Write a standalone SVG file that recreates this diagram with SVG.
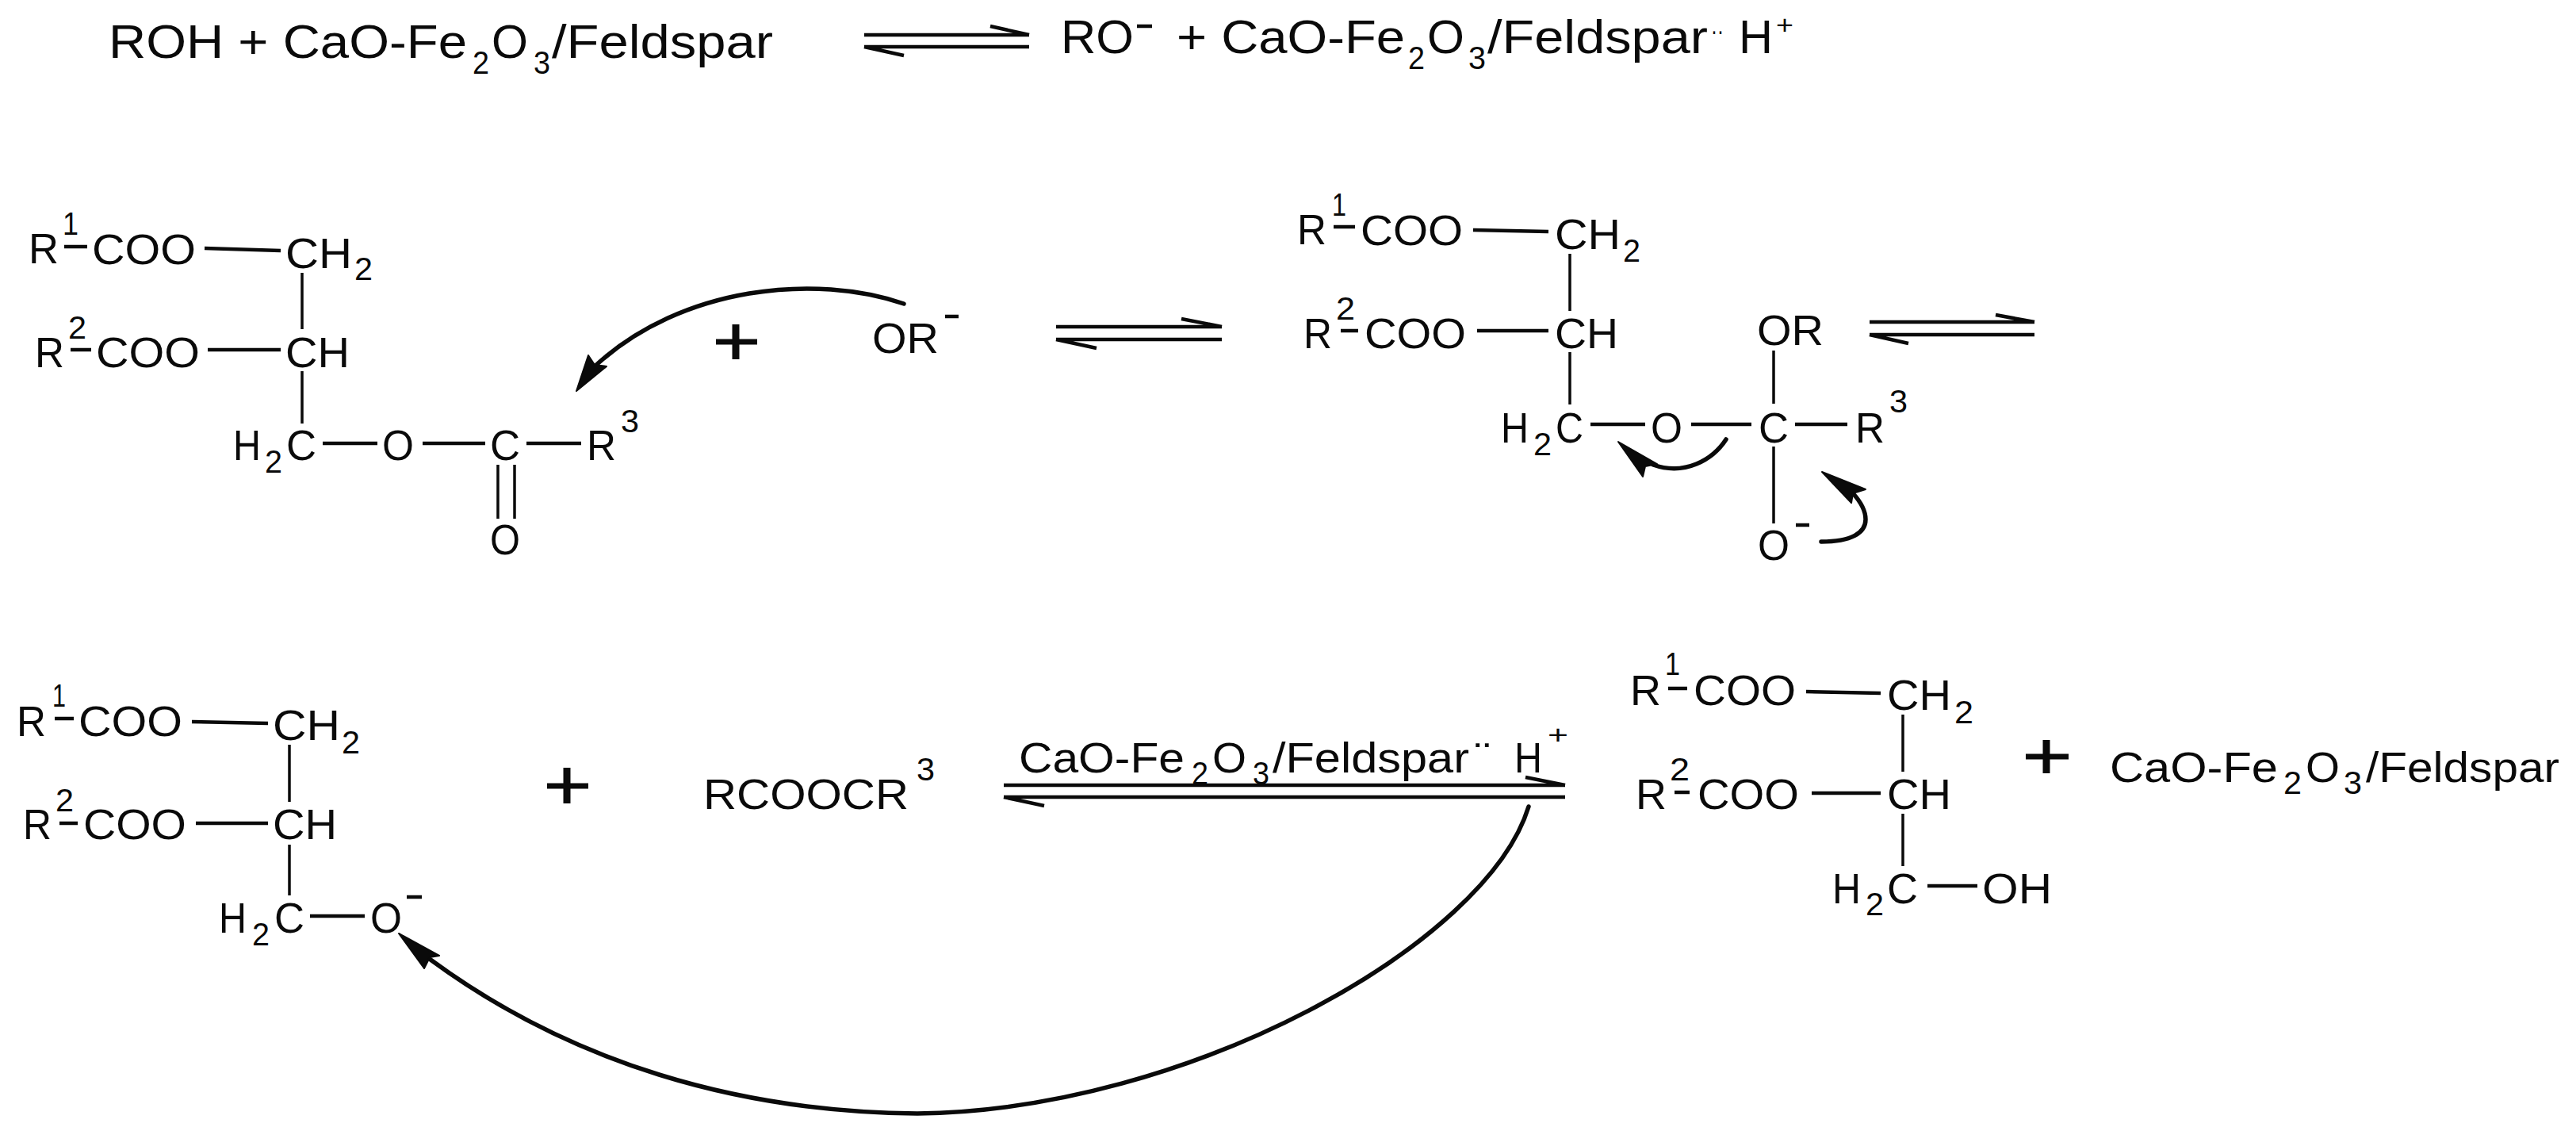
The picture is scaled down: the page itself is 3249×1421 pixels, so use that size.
<svg xmlns="http://www.w3.org/2000/svg" width="3249" height="1421" viewBox="0 0 3249 1421">
<style>
text{font-family:"Liberation Sans",Arial,sans-serif;fill:#0a0a0a}
.a{font-size:60px}.s{font-size:54px}.m{font-size:54px}.sd{font-size:40px}.td{font-size:40px}.pl{font-size:34px}
.b{stroke:#0a0a0a;stroke-width:4.5;fill:none}
.t{stroke:#0a0a0a;stroke-width:3.5;fill:none}
.c{stroke:#0a0a0a;stroke-width:5.5;fill:none;stroke-linecap:round}
.h{fill:#0a0a0a;stroke:#0a0a0a;stroke-width:2;stroke-linejoin:round}
.p{stroke:#0a0a0a;fill:none}
</style>
<rect width="3249" height="1421" fill="#fff"/>
<g id="eq-top-left">
<text class="a" x="137" y="73" textLength="452" lengthAdjust="spacingAndGlyphs">ROH + CaO-Fe</text>
<text class="td" x="596" y="93" textLength="21" lengthAdjust="spacingAndGlyphs">2</text>
<text class="a" x="620" y="73" textLength="46" lengthAdjust="spacingAndGlyphs">O</text>
<text class="td" x="673" y="93" textLength="21" lengthAdjust="spacingAndGlyphs">3</text>
<text class="a" x="696" y="73" textLength="279" lengthAdjust="spacingAndGlyphs">/Feldspar</text>
</g>
<g id="eq-top-right">
<text class="a" x="1338" y="67" textLength="92" lengthAdjust="spacingAndGlyphs">RO</text>
<path class="b" d="M1434 33H1453"/>
<text class="a" x="1484" y="67" textLength="288" lengthAdjust="spacingAndGlyphs">+ CaO-Fe</text>
<text class="td" x="1776" y="87" textLength="21" lengthAdjust="spacingAndGlyphs">2</text>
<text class="a" x="1800" y="67" textLength="47" lengthAdjust="spacingAndGlyphs">O</text>
<text class="td" x="1852" y="87" textLength="22" lengthAdjust="spacingAndGlyphs">3</text>
<text class="a" x="1876" y="67" textLength="278" lengthAdjust="spacingAndGlyphs">/Feldspar</text>
<text class="pl" x="2158" y="50" textLength="16" lengthAdjust="spacingAndGlyphs">··</text>
<text class="a" x="2193" y="67" textLength="43" lengthAdjust="spacingAndGlyphs">H</text>
<text class="pl" x="2240" y="43" textLength="22" lengthAdjust="spacingAndGlyphs">+</text>
</g>
<g id="triglyceride">
<text class="s" x="36" y="332" textLength="38" lengthAdjust="spacingAndGlyphs">R</text>
<text class="sd" x="79" y="296" textLength="20" lengthAdjust="spacingAndGlyphs">1</text>
<path class="b" d="M81 311H110"/>
<text class="s" x="116" y="333" textLength="131" lengthAdjust="spacingAndGlyphs">COO</text>
<path class="b" d="M258 313L354 316"/>
<text class="s" x="360" y="338" textLength="84" lengthAdjust="spacingAndGlyphs">CH</text>
<text class="sd" x="447" y="353" textLength="23" lengthAdjust="spacingAndGlyphs">2</text>
<path class="t" d="M381 344V415"/>
<text class="s" x="44" y="463" textLength="37" lengthAdjust="spacingAndGlyphs">R</text>
<text class="sd" x="86" y="427" textLength="23" lengthAdjust="spacingAndGlyphs">2</text>
<path class="b" d="M89 441H115"/>
<text class="s" x="121" y="463" textLength="131" lengthAdjust="spacingAndGlyphs">COO</text>
<path class="b" d="M262 441H354"/>
<text class="s" x="360" y="463" textLength="81" lengthAdjust="spacingAndGlyphs">CH</text>
<path class="t" d="M381 468V534"/>
<text class="s" x="294" y="580" textLength="35" lengthAdjust="spacingAndGlyphs">H</text>
<text class="sd" x="334" y="596" textLength="22" lengthAdjust="spacingAndGlyphs">2</text>
<text class="s" x="361" y="580" textLength="38" lengthAdjust="spacingAndGlyphs">C</text>
<path class="b" d="M407 559H476"/>
<text class="s" x="482" y="580" textLength="40" lengthAdjust="spacingAndGlyphs">O</text>
<path class="b" d="M533 559H612"/>
<text class="s" x="618" y="580" textLength="38" lengthAdjust="spacingAndGlyphs">C</text>
<path class="b" d="M664 559H733"/>
<text class="s" x="740" y="580" textLength="37" lengthAdjust="spacingAndGlyphs">R</text>
<text class="sd" x="783" y="545" textLength="23" lengthAdjust="spacingAndGlyphs">3</text>
<path class="t" d="M628 586V654M649 586V654"/>
<text class="s" x="618" y="699" textLength="38" lengthAdjust="spacingAndGlyphs">O</text>
</g>
<g id="plus-1"><path class="p" stroke-width="7" d="M903 431H955"/><path class="p" stroke-width="9" d="M928 409V453"/></g>
<g id="alkoxide">
<text class="s" x="1100" y="445" textLength="84" lengthAdjust="spacingAndGlyphs">OR</text>
<path class="b" d="M1192 399H1209"/>
</g>
<g id="intermediate">
<text class="s" x="1636" y="308" textLength="37" lengthAdjust="spacingAndGlyphs">R</text>
<text class="sd" x="1680" y="272" textLength="18" lengthAdjust="spacingAndGlyphs">1</text>
<path class="b" d="M1682 286H1709"/>
<text class="s" x="1716" y="309" textLength="129" lengthAdjust="spacingAndGlyphs">COO</text>
<path class="b" d="M1858 290L1953 292"/>
<text class="s" x="1961" y="314" textLength="83" lengthAdjust="spacingAndGlyphs">CH</text>
<text class="sd" x="2047" y="330" textLength="22" lengthAdjust="spacingAndGlyphs">2</text>
<path class="t" d="M1980 320V392"/>
<text class="s" x="1644" y="439" textLength="36" lengthAdjust="spacingAndGlyphs">R</text>
<text class="sd" x="1685" y="403" textLength="24" lengthAdjust="spacingAndGlyphs">2</text>
<path class="b" d="M1691 417H1713"/>
<text class="s" x="1721" y="439" textLength="128" lengthAdjust="spacingAndGlyphs">COO</text>
<path class="b" d="M1863 417H1953"/>
<text class="s" x="1961" y="439" textLength="80" lengthAdjust="spacingAndGlyphs">CH</text>
<path class="t" d="M1980 444V510"/>
<text class="s" x="1893" y="558" textLength="35" lengthAdjust="spacingAndGlyphs">H</text>
<text class="sd" x="1934" y="574" textLength="23" lengthAdjust="spacingAndGlyphs">2</text>
<text class="s" x="1962" y="558" textLength="35" lengthAdjust="spacingAndGlyphs">C</text>
<path class="b" d="M2006 535H2075"/>
<text class="s" x="2082" y="558" textLength="40" lengthAdjust="spacingAndGlyphs">O</text>
<path class="b" d="M2133 535H2209"/>
<text class="s" x="2218" y="558" textLength="38" lengthAdjust="spacingAndGlyphs">C</text>
<path class="b" d="M2264 535H2330"/>
<text class="s" x="2340" y="558" textLength="37" lengthAdjust="spacingAndGlyphs">R</text>
<text class="sd" x="2383" y="520" textLength="23" lengthAdjust="spacingAndGlyphs">3</text>
<text class="s" x="2216" y="435" textLength="84" lengthAdjust="spacingAndGlyphs">OR</text>
<path class="t" d="M2237 442V509M2237 563V660"/>
<text class="s" x="2217" y="706" textLength="40" lengthAdjust="spacingAndGlyphs">O</text>
<path class="b" d="M2265 662H2282"/>
</g>
<g id="diglyceride-anion">
<text class="s" x="21" y="928" textLength="37" lengthAdjust="spacingAndGlyphs">R</text>
<text class="sd" x="66" y="891" textLength="17" lengthAdjust="spacingAndGlyphs">1</text>
<path class="b" d="M69 906H93"/>
<text class="s" x="99" y="928" textLength="131" lengthAdjust="spacingAndGlyphs">COO</text>
<path class="b" d="M242 910L338 912"/>
<text class="s" x="344" y="933" textLength="85" lengthAdjust="spacingAndGlyphs">CH</text>
<text class="sd" x="431" y="950" textLength="23" lengthAdjust="spacingAndGlyphs">2</text>
<path class="t" d="M365 939V1011"/>
<text class="s" x="29" y="1058" textLength="36" lengthAdjust="spacingAndGlyphs">R</text>
<text class="sd" x="70" y="1023" textLength="23" lengthAdjust="spacingAndGlyphs">2</text>
<path class="b" d="M75 1038H98"/>
<text class="s" x="105" y="1058" textLength="130" lengthAdjust="spacingAndGlyphs">COO</text>
<path class="b" d="M247 1038H338"/>
<text class="s" x="344" y="1058" textLength="81" lengthAdjust="spacingAndGlyphs">CH</text>
<path class="t" d="M365 1065V1129"/>
<text class="s" x="276" y="1176" textLength="35" lengthAdjust="spacingAndGlyphs">H</text>
<text class="sd" x="318" y="1192" textLength="22" lengthAdjust="spacingAndGlyphs">2</text>
<text class="s" x="346" y="1176" textLength="38" lengthAdjust="spacingAndGlyphs">C</text>
<path class="b" d="M391 1155H460"/>
<text class="s" x="467" y="1176" textLength="40" lengthAdjust="spacingAndGlyphs">O</text>
<path class="b" d="M513 1131H532"/>
</g>
<g id="plus-2"><path class="p" stroke-width="7" d="M690 991H742"/><path class="p" stroke-width="9" d="M715 968V1013"/></g>
<g id="ester">
<text class="s" x="887" y="1020" textLength="259" lengthAdjust="spacingAndGlyphs">RCOOCR</text>
<text class="sd" x="1156" y="984" textLength="23" lengthAdjust="spacingAndGlyphs">3</text>
</g>
<g id="catalyst-label">
<text class="m" x="1285" y="974" textLength="209" lengthAdjust="spacingAndGlyphs">CaO-Fe</text>
<text class="td" x="1503" y="989" textLength="21" lengthAdjust="spacingAndGlyphs">2</text>
<text class="m" x="1529" y="974" textLength="43" lengthAdjust="spacingAndGlyphs">O</text>
<text class="td" x="1580" y="989" textLength="21" lengthAdjust="spacingAndGlyphs">3</text>
<text class="m" x="1605" y="974" textLength="248" lengthAdjust="spacingAndGlyphs">/Feldspar</text>
<text class="m" x="1860" y="974" textLength="20" lengthAdjust="spacingAndGlyphs">¨</text>
<text class="m" x="1910" y="974" textLength="35" lengthAdjust="spacingAndGlyphs">H</text>
<text class="pl" x="1952" y="938" textLength="26" lengthAdjust="spacingAndGlyphs">+</text>
</g>
<g id="diglyceride">
<text class="s" x="2056" y="889" textLength="39" lengthAdjust="spacingAndGlyphs">R</text>
<text class="sd" x="2100" y="851" textLength="19" lengthAdjust="spacingAndGlyphs">1</text>
<path class="b" d="M2104 868H2128"/>
<text class="s" x="2136" y="889" textLength="129" lengthAdjust="spacingAndGlyphs">COO</text>
<path class="b" d="M2278 872L2372 874"/>
<text class="s" x="2380" y="895" textLength="81" lengthAdjust="spacingAndGlyphs">CH</text>
<text class="sd" x="2465" y="912" textLength="24" lengthAdjust="spacingAndGlyphs">2</text>
<path class="t" d="M2400 901V973"/>
<text class="s" x="2063" y="1020" textLength="39" lengthAdjust="spacingAndGlyphs">R</text>
<text class="sd" x="2106" y="984" textLength="25" lengthAdjust="spacingAndGlyphs">2</text>
<path class="b" d="M2112 999H2131"/>
<text class="s" x="2141" y="1020" textLength="128" lengthAdjust="spacingAndGlyphs">COO</text>
<path class="b" d="M2285 1000H2372"/>
<text class="s" x="2380" y="1020" textLength="81" lengthAdjust="spacingAndGlyphs">CH</text>
<path class="t" d="M2400 1026V1092"/>
<text class="s" x="2311" y="1139" textLength="36" lengthAdjust="spacingAndGlyphs">H</text>
<text class="sd" x="2353" y="1154" textLength="23" lengthAdjust="spacingAndGlyphs">2</text>
<text class="s" x="2380" y="1139" textLength="39" lengthAdjust="spacingAndGlyphs">C</text>
<path class="b" d="M2431 1117H2494"/>
<text class="s" x="2500" y="1139" textLength="88" lengthAdjust="spacingAndGlyphs">OH</text>
</g>
<g id="plus-3"><path class="p" stroke-width="7" d="M2555 954H2609"/><path class="p" stroke-width="9" d="M2581 933V975"/></g>
<g id="catalyst">
<text class="m" x="2661" y="986" textLength="212" lengthAdjust="spacingAndGlyphs">CaO-Fe</text>
<text class="td" x="2880" y="1001" textLength="23" lengthAdjust="spacingAndGlyphs">2</text>
<text class="m" x="2908" y="986" textLength="43" lengthAdjust="spacingAndGlyphs">O</text>
<text class="td" x="2956" y="1001" textLength="23" lengthAdjust="spacingAndGlyphs">3</text>
<text class="m" x="2984" y="986" textLength="244" lengthAdjust="spacingAndGlyphs">/Feldspar</text>
</g>
<g id="connectors">
<path class="b" d="M1090 44H1298M1249 33L1298 44M1090 59H1298M1090 59L1140 70"/>
<path class="b" d="M1332 412H1541M1490 402L1541 412M1332 428H1541M1332 428L1383 439"/>
<path class="b" d="M2358 406H2566M2517 397L2566 406M2358 422H2566M2358 422L2407 433"/>
<path class="b" d="M1266 990H1974M1924 980L1974 990M1266 1005H1974M1266 1005L1317 1016"/>
<path class="c" d="M1140 383C1030 345 860 360 750 462"/>
<polygon class="h" points="727,493 742,448 750,460 765,462"/>
<path class="c" d="M2177 554C2160 580 2125 600 2085 586"/>
<polygon class="h" points="2041,557 2090,585 2075,588 2072,601"/>
<path class="c" d="M2297 683C2335 683 2353 672 2353 655C2353 643 2347 633 2337 622"/>
<polygon class="h" points="2298,595 2353,617 2337,622 2335,634"/>
<path class="c" d="M1928 1017C1875 1190 1500 1400 1157 1404C930 1402 720 1340 543 1210"/>
<polygon class="h" points="503,1177 554,1205 542,1207 535,1221"/>
</g>
</svg>
